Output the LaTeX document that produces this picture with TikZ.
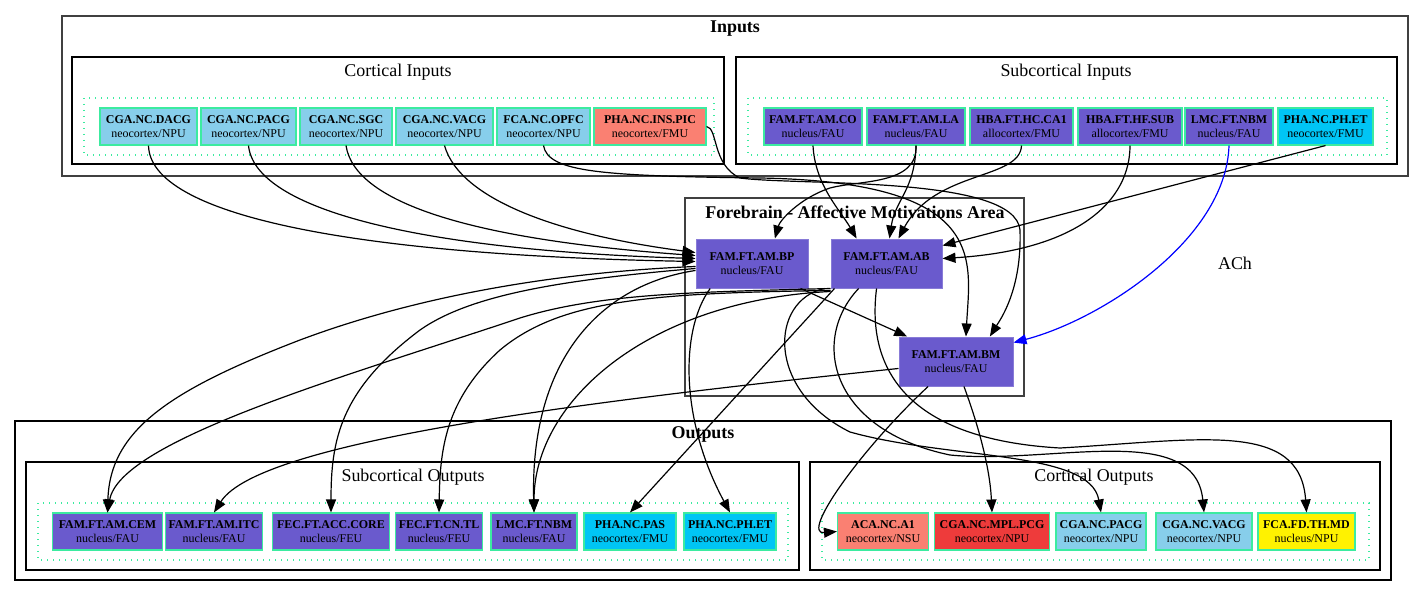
\documentclass[tikz,border=0pt]{standalone}
\usepackage{fontspec}
\setmainfont{Liberation Serif}
\usetikzlibrary{arrows.meta}
\definecolor{skyblu}{RGB}{135,206,235}
\definecolor{salmn}{RGB}{250,128,114}
\definecolor{slateblu}{RGB}{106,90,205}
\definecolor{deepsky}{RGB}{0,197,245}
\definecolor{redish}{RGB}{238,59,59}
\definecolor{rankgreen}{RGB}{60,235,160}

\begin{document}
\begin{tikzpicture}[x=1bp, y=1bp,
  cluster/.style={draw=black!75, line width=1.4bp},
  subcluster/.style={draw=black, line width=1.1bp},
  rank/.style={draw=rankgreen, line width=1.4bp, dash pattern=on 1.4bp off 4.6bp},
  title/.style={font=\fontsize{18}{20}\selectfont\bfseries},
  subtitle/.style={font=\fontsize{18}{20}\selectfont},
  region/.style={rectangle, draw=rankgreen, line width=1.1bp, minimum height=37bp, inner xsep=3bp, inner ysep=1bp, align=center, font=\fontsize{12}{13.5}\selectfont},
  core/.style={rectangle, fill=slateblu, draw=slateblu!80!white, line width=1bp, minimum height=49bp, align=center, font=\fontsize{12}{13.5}\selectfont},
  arrow/.style={-{Triangle[length=13bp,width=10bp]}, line width=1.2bp}
]
  \useasboundingbox (0,0) rectangle (1424,-597);

  \draw[cluster] (62,-16) rectangle (1408,-176);
  \node[title] (inputs) at (735,-29) {Inputs};
  \draw[subcluster] (72,-57) rectangle (724,-164);
  \node[subtitle] (corin) at (398,-72) {Cortical Inputs};
  \draw[rank] (84,-98) rectangle (714,-155);
  \draw[subcluster] (736,-57) rectangle (1397,-164);
  \node[subtitle] (subin) at (1066,-72) {Subcortical Inputs};
  \draw[rank] (748,-98) rectangle (1387,-155);

  \draw[cluster] (685,-198) rectangle (1024,-396);
  \node[title] (fore) at (855,-212) {Forebrain - Affective Motivations Area};

  \draw[subcluster] (15,-421) rectangle (1391,-580);
  \node[title] (outputs) at (703,-434) {Outputs};
  \draw[subcluster] (26,-462) rectangle (799,-570);
  \node[subtitle] (subout) at (413,-477) {Subcortical Outputs};
  \draw[rank] (38,-503) rectangle (788,-560);
  \draw[subcluster] (810,-462) rectangle (1380,-570);
  \node[subtitle] (corout) at (1094,-477) {Cortical Outputs};
  \draw[rank] (822,-503) rectangle (1369,-560);

  \node[region, fill=skyblu, minimum width=97bp] (dacg) at (148.5,-126.5) {\textbf{CGA.NC.DACG}\\neocortex/NPU};
  \node[region, fill=skyblu, minimum width=95bp] (pacgi) at (248.5,-126.5) {\textbf{CGA.NC.PACG}\\neocortex/NPU};
  \node[region, fill=skyblu, minimum width=92bp] (sgc) at (346,-126.5) {\textbf{CGA.NC.SGC}\\neocortex/NPU};
  \node[region, fill=skyblu, minimum width=97bp] (vacgi) at (444.5,-126.5) {\textbf{CGA.NC.VACG}\\neocortex/NPU};
  \node[region, fill=skyblu, minimum width=93bp] (opfc) at (543.5,-126.5) {\textbf{FCA.NC.OPFC}\\neocortex/NPU};
  \node[region, fill=salmn, minimum width=112bp] (inspic) at (650,-126.5) {\textbf{PHA.NC.INS.PIC}\\neocortex/FMU};

  \node[region, fill=slateblu, minimum width=98bp] (co) at (813,-126.5) {\textbf{FAM.FT.AM.CO}\\nucleus/FAU};
  \node[region, fill=slateblu, minimum width=98bp] (la) at (916,-126.5) {\textbf{FAM.FT.AM.LA}\\nucleus/FAU};
  \node[region, fill=slateblu, minimum width=103bp] (ca1) at (1021.5,-126.5) {\textbf{HBA.FT.HC.CA1}\\allocortex/FMU};
  \node[region, fill=slateblu, minimum width=104bp] (sub) at (1130,-126.5) {\textbf{HBA.FT.HF.SUB}\\allocortex/FMU};
  \node[region, fill=slateblu, minimum width=88bp] (nbmi) at (1229,-126.5) {\textbf{LMC.FT.NBM}\\nucleus/FAU};
  \node[region, fill=deepsky, minimum width=95bp] (pheti) at (1325.5,-126.5) {\textbf{PHA.NC.PH.ET}\\neocortex/FMU};

  \node[core, minimum width=112bp] (bp) at (752,-263.5) {\textbf{FAM.FT.AM.BP}\\nucleus/FAU};
  \node[core, minimum width=111bp] (ab) at (886.5,-263.5) {\textbf{FAM.FT.AM.AB}\\nucleus/FAU};
  \node[core, minimum width=114bp] (bm) at (956,-361.5) {\textbf{FAM.FT.AM.BM}\\nucleus/FAU};

  \node[region, fill=slateblu, minimum width=110bp] (cem) at (107.5,-531.5) {\textbf{FAM.FT.AM.CEM}\\nucleus/FAU};
  \node[region, fill=slateblu, minimum width=97bp] (itc) at (214,-531.5) {\textbf{FAM.FT.AM.ITC}\\nucleus/FAU};
  \node[region, fill=slateblu, minimum width=117bp] (acc) at (331,-531.5) {\textbf{FEC.FT.ACC.CORE}\\nucleus/FEU};
  \node[region, fill=slateblu, minimum width=87bp] (cntl) at (439,-531.5) {\textbf{FEC.FT.CN.TL}\\nucleus/FEU};
  \node[region, fill=slateblu, minimum width=86bp] (nbmo) at (534,-531.5) {\textbf{LMC.FT.NBM}\\nucleus/FAU};
  \node[region, fill=deepsky, minimum width=92bp] (pas) at (630,-531.5) {\textbf{PHA.NC.PAS}\\neocortex/FMU};
  \node[region, fill=deepsky, minimum width=92bp] (pheto) at (730,-531.5) {\textbf{PHA.NC.PH.ET}\\neocortex/FMU};

  \node[region, fill=salmn, minimum width=91bp] (a1) at (883,-531.5) {\textbf{ACA.NC.A1}\\neocortex/NSU};
  \node[region, fill=redish, minimum width=115bp] (mpl) at (992,-531.5) {\textbf{CGA.NC.MPL.PCG}\\neocortex/NPU};
  \node[region, fill=skyblu, minimum width=90bp] (pacgo) at (1101,-531.5) {\textbf{CGA.NC.PACG}\\neocortex/NPU};
  \node[region, fill=skyblu, minimum width=96bp] (vacgo) at (1204,-531.5) {\textbf{CGA.NC.VACG}\\neocortex/NPU};
  \node[region, fill=yellow, minimum width=97bp] (thmd) at (1306.5,-531.5) {\textbf{FCA.FD.TH.MD}\\nucleus/NPU};

  \draw[arrow] (dacg.south) .. controls (150,-215) and (350,-255) .. ([yshift=2]bp.west);
  \draw[arrow] (pacgi.south) .. controls (255,-210) and (420,-250) .. ([yshift=5]bp.west);
  \draw[arrow] (sgc.south) .. controls (355,-205) and (480,-240) .. ([yshift=8]bp.west);
  \draw[arrow] (vacgi.south) .. controls (460,-200) and (560,-235) .. ([yshift=11]bp.west);
  \draw[arrow] (opfc.south) .. controls (548,-172) and (600,-176) .. (760,-178) .. controls (990,-182) and (970,-260) .. ([xshift=10]bm.north);
  \draw[arrow] (inspic.east) .. controls (718,-128) and (712,-165) .. (740,-178) .. controls (800,-186) and (1015,-175) .. (1020,-230) .. controls (1022,-290) and (1000,-320) .. ([xshift=34]bm.north);
  \draw[arrow] (co.south) .. controls (815,-185) and (840,-210) .. ([xshift=-30]ab.north);
  \draw[arrow] (la.south) .. controls (918,-185) and (860,-180) .. (830,-188) .. controls (800,-198) and (780,-220) .. ([xshift=23]bp.north);
  \draw[arrow] (la.south) .. controls (915,-190) and (895,-200) .. ([xshift=3]ab.north);
  \draw[arrow] (ca1.south) .. controls (1020,-180) and (935,-170) .. ([xshift=12]ab.north);
  \draw[arrow] (sub.south) .. controls (1130,-200) and (1080,-250) .. ([yshift=5]ab.east);
  \draw[arrow] (pheti.south) -- ([yshift=18]ab.east);
  \draw[arrow, blue] (nbmi.south) .. controls (1226,-240) and (1100,-320) .. ([yshift=19]bm.east);
  \node[subtitle] (ach) at (1235,-263) {ACh};

  \draw[arrow] ([xshift=-8]bp.south east) -- ([xshift=-49]bm.north);

  \draw[arrow] ([yshift=-3]bp.west) .. controls (560,-272) and (420,-295) .. (300,-340) .. controls (170,-390) and (110,-430) .. (cem.north);
  \draw[arrow] (ab.south west) .. controls (700,-292) and (600,-293) .. (520,-318) .. controls (350,-375) and (120,-440) .. (cem.north);
  \draw[arrow] ([yshift=-5]bp.west) .. controls (560,-280) and (470,-295) .. (420,-330) .. controls (340,-390) and (331,-440) .. (acc.north);
  \draw[arrow] ([yshift=-2]ab.south west) .. controls (650,-293) and (560,-300) .. (500,-350) .. controls (445,-400) and (440,-450) .. (cntl.north);
  \draw[arrow] ([yshift=-7]bp.west) .. controls (600,-285) and (530,-360) .. (nbmo.north);
  \draw[arrow] ([yshift=-3]ab.south west) .. controls (650,-300) and (534,-400) .. (nbmo.north);
  \draw[arrow] ([yshift=-7]bm.west) .. controls (600,-400) and (260,-440) .. (itc.north);
  \draw[arrow] ([xshift=4]ab.south west) -- (pas.north);
  \draw[arrow] ([xshift=-42]bp.south) .. controls (680,-330) and (680,-420) .. (pheto.north);

  \draw[arrow] ([xshift=-28]bm.south) .. controls (860,-450) and (800,-535) .. (a1.west);
  \draw[arrow] ([xshift=8]bm.south) .. controls (980,-430) and (990,-470) .. (mpl.north);
  \draw[arrow] ([xshift=-6]ab.south west) .. controls (770,-300) and (765,-390) .. (850,-432) .. controls (950,-460) and (1090,-450) .. (pacgo.north);
  \draw[arrow] ([xshift=-28]ab.south) .. controls (810,-340) and (830,-430) .. (950,-455) .. controls (1050,-465) and (1195,-420) .. (vacgo.north);
  \draw[arrow] ([xshift=-10]ab.south) .. controls (865,-380) and (920,-440) .. (1060,-448) .. controls (1200,-440) and (1300,-420) .. (thmd.north);
\end{tikzpicture}
\end{document}
